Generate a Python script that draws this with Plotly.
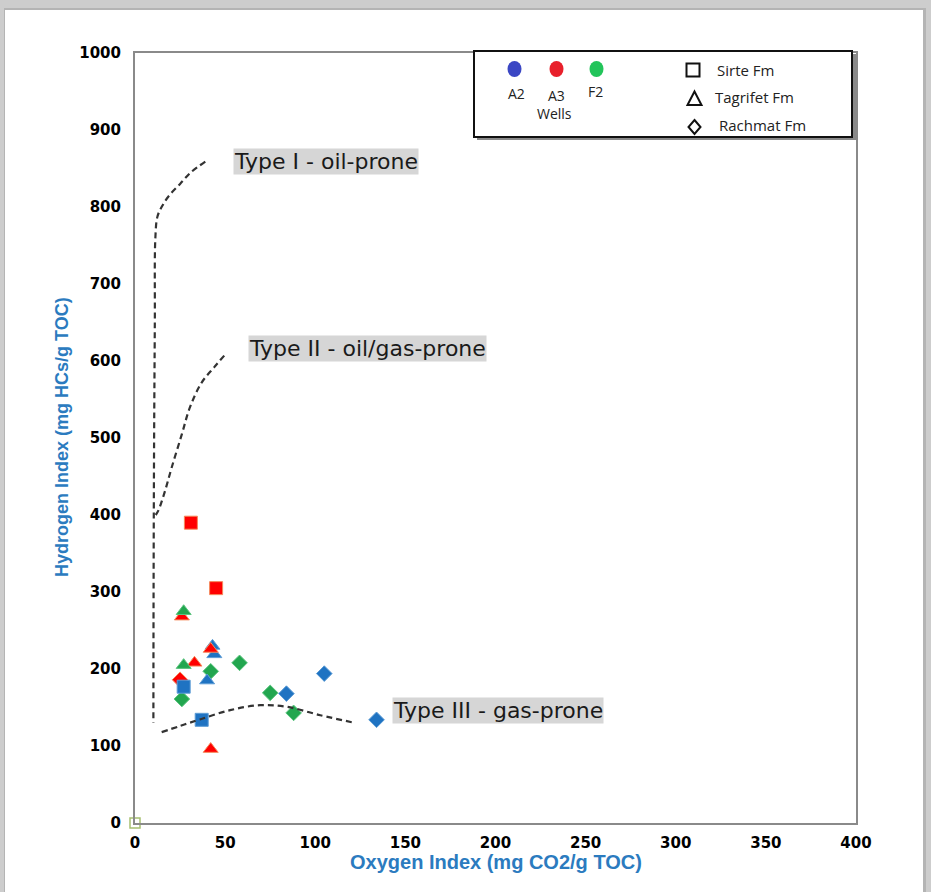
import plotly.graph_objects as go

# ---- Rock-Eval pyrolysis results (Oxygen Index, Hydrogen Index) ----
wells = ["A2", "A3", "F2"]
well_colors = {"A2": "#1f73c2", "A3": "#ff0000", "F2": "#22a64f"}
well_edges = {"A2": "#5b9bd5", "A3": "#f58a5c", "F2": "#5cc47f"}
legend_dot_colors = {"A2": "#3b47c4", "A3": "#e8202b", "F2": "#22c45a"}

formations = ["Sirte Fm", "Tagrifet Fm", "Rachmat Fm"]
form_symbols = {"Sirte Fm": "square", "Tagrifet Fm": "triangle-up", "Rachmat Fm": "diamond"}
form_sizes = {"Sirte Fm": 13, "Tagrifet Fm": 13, "Rachmat Fm": 12}

a2_sirte_oi, a2_sirte_hi = [27, 37], [177, 134]
a2_tagrifet_oi, a2_tagrifet_hi = [43, 44, 40], [230, 219, 185]
a2_rachmat_oi, a2_rachmat_hi = [105, 84, 134], [194, 168, 134]

a3_sirte_oi, a3_sirte_hi = [31, 45], [390, 305]
a3_tagrifet_oi, a3_tagrifet_hi = [26, 42, 33, 42], [268, 226, 208, 96]
a3_rachmat_oi, a3_rachmat_hi = [25], [186]

f2_sirte_oi, f2_sirte_hi = [], []
f2_tagrifet_oi, f2_tagrifet_hi = [27, 27], [275, 205]
f2_rachmat_oi, f2_rachmat_hi = [58, 42, 26, 75, 88], [208, 197, 161, 169, 143]

origin_oi, origin_hi = [0], [0]

samples = {
    ("A2", "Sirte Fm"): (a2_sirte_oi, a2_sirte_hi),
    ("A2", "Tagrifet Fm"): (a2_tagrifet_oi, a2_tagrifet_hi),
    ("A2", "Rachmat Fm"): (a2_rachmat_oi, a2_rachmat_hi),
    ("A3", "Sirte Fm"): (a3_sirte_oi, a3_sirte_hi),
    ("A3", "Tagrifet Fm"): (a3_tagrifet_oi, a3_tagrifet_hi),
    ("A3", "Rachmat Fm"): (a3_rachmat_oi, a3_rachmat_hi),
    ("F2", "Sirte Fm"): (f2_sirte_oi, f2_sirte_hi),
    ("F2", "Tagrifet Fm"): (f2_tagrifet_oi, f2_tagrifet_hi),
    ("F2", "Rachmat Fm"): (f2_rachmat_oi, f2_rachmat_hi),
}

# ---- Kerogen type boundary curves ----
type1_oi = [39, 31, 25, 19, 15.5, 12.5, 11.3, 11, 10.6, 10.3, 10.2]
type1_hi = [859, 845, 830, 815, 803, 788, 760, 650, 500, 300, 130]
type2_oi = [49.5, 44, 37, 30.5, 26, 20.4, 16.5, 13, 11.5]
type2_hi = [607, 592, 572, 540, 505, 462, 430, 406, 400]
type3_oi = [14.8, 25, 36, 52.8, 69.4, 84, 102.8, 122]
type3_hi = [118, 126, 134.5, 146.6, 153, 151, 140, 130]

type_labels = ["Type I - oil-prone", "Type II - oil/gas-prone", "Type III - gas-prone"]
type_label_oi = [106, 129, 201.5]
type_label_hi = [859, 616, 146]

x_ticks = [0, 50, 100, 150, 200, 250, 300, 350, 400]
y_ticks = [0, 100, 200, 300, 400, 500, 600, 700, 800, 900, 1000]

W, H = 931, 892
ML, MR, MT, MB = 135, 75, 53, 69
PW, PH = W - ML - MR, H - MT - MB


def px(x):
    return (x - ML) / PW


def py(y):
    return (H - MB - y) / PH


fig = go.Figure()

# origin marker
fig.add_trace(go.Scatter(
    x=origin_oi, y=origin_hi, mode="markers", cliponaxis=False, showlegend=False,
    marker=dict(symbol="square-open", size=10, color="#a7c070", line=dict(width=1.5)),
))

for form in ["Rachmat Fm", "Tagrifet Fm", "Sirte Fm"]:
    for w in wells:
        oi, hi = samples[(w, form)]
        if not oi:
            continue
        fig.add_trace(go.Scatter(
            x=oi, y=hi, mode="markers", cliponaxis=False, showlegend=False,
            name=f"{w} {form}",
            marker=dict(symbol=form_symbols[form], size=form_sizes[form],
                        color=well_colors[w],
                        line=dict(color=well_edges[w], width=1)),
        ))

line_style = dict(color="#333333", width=2.2, dash="6px,4px")
for xs, ys in [(type1_oi, type1_hi), (type2_oi, type2_hi), (type3_oi, type3_hi)]:
    fig.add_trace(go.Scatter(x=xs, y=ys, mode="lines", line=dict(line_style, shape="spline"),
                             showlegend=False, hoverinfo="skip", cliponaxis=False))

annotations = []
for txt, xo, yo in zip(type_labels, type_label_oi, type_label_hi):
    annotations.append(dict(
        x=xo, y=yo, xref="x", yref="y", text=txt, showarrow=False,
        xanchor="center", yanchor="middle",
        font=dict(family="DejaVu Sans", size=22, color="#1a1a1a"),
        bgcolor="#d6d6d6", borderpad=0,
    ))


def label(x, y, text, size, xanchor="center", family="Open Sans", color="#222222",
          weight="normal", angle=0):
    return dict(x=px(x), y=py(y), xref="paper", yref="paper", text=text, showarrow=False,
                xanchor=xanchor, yanchor="middle", textangle=angle,
                font=dict(family=family, size=size, color=color, weight=weight))


# axis titles
annotations.append(label(496, 862, "Oxygen Index (mg CO2/g TOC)", 20,
                         family="Liberation Sans", color="#2b7bbf", weight="bold"))
annotations.append(label(62, 437, "Hydrogen Index (mg HCs/g TOC)", 18,
                         family="Liberation Sans", color="#2b7bbf", weight="bold", angle=-90))

shapes = []
# page card
shapes.append(dict(type="rect", xref="paper", yref="paper", layer="below",
                   x0=px(4), x1=px(926), y0=py(H + 5), y1=py(8),
                   fillcolor="#b4b4b4", line=dict(width=0)))
shapes.append(dict(type="rect", xref="paper", yref="paper", layer="below",
                   x0=px(5), x1=px(923), y0=py(H + 5), y1=py(10),
                   fillcolor="white", line=dict(width=0)))

# legend box
shapes.append(dict(type="rect", xref="paper", yref="paper", layer="above",
                   x0=px(477), x1=px(856), y0=py(140), y1=py(54),
                   fillcolor="#8a8a8a", line=dict(width=0)))
shapes.append(dict(type="rect", xref="paper", yref="paper", layer="above",
                   x0=px(474), x1=px(852), y0=py(137), y1=py(51),
                   fillcolor="white", line=dict(color="#111111", width=2)))

dot_cx = {"A2": 514.5, "A3": 556.5, "F2": 596.5}
lab_pos = {"A2": (516, 94), "A3": (556, 95.5), "F2": (595, 92)}
for w in wells:
    cx = dot_cx[w]
    shapes.append(dict(type="circle", xref="paper", yref="paper", layer="above",
                       x0=px(cx - 7), x1=px(cx + 7), y0=py(77), y1=py(61),
                       fillcolor=legend_dot_colors[w], line=dict(width=0)))
    lx, ly = lab_pos[w]
    annotations.append(label(lx, ly, w, 14))
annotations.append(label(554, 114, "Wells", 14))

sym_line = dict(color="#111111", width=2)
shapes.append(dict(type="rect", xref="paper", yref="paper", layer="above",
                   x0=px(686.5), x1=px(699.5), y0=py(76.5), y1=py(63.5), line=sym_line))


def ppath(pts):
    return "M " + " L ".join(f"{px(a):.5f},{py(b):.5f}" for a, b in pts) + " Z"


shapes.append(dict(type="path", xref="paper", yref="paper", layer="above",
                   path=ppath([(694.5, 91.5), (701.5, 105), (687.5, 105)]), line=sym_line))
shapes.append(dict(type="path", xref="paper", yref="paper", layer="above",
                   path=ppath([(694.5, 120), (700.5, 127), (694.5, 134), (688.5, 127)]), line=sym_line))

form_lab_pos = [(715, 70), (713, 97), (716.5, 125)]
for form, (lx, ly) in zip(formations, form_lab_pos):
    annotations.append(label(lx, ly, form, 15, xanchor="left"))

axis_common = dict(
    showgrid=False, zeroline=False, showline=True, linecolor="#8a8a8a", linewidth=2,
    mirror=True, ticks="",
    tickfont=dict(family="DejaVu Sans", size=15, color="#000000", weight="bold"),
)

fig.update_layout(
    width=W, height=H, margin=dict(l=ML, r=MR, t=MT, b=MB),
    paper_bgcolor="#cdcdcd", plot_bgcolor="white",
    xaxis=dict(axis_common, range=[0, 400], tickvals=x_ticks, ticklabelstandoff=5),
    yaxis=dict(axis_common, range=[0, 1000], tickvals=y_ticks, ticklabelstandoff=9),
    shapes=shapes, annotations=annotations, showlegend=False,
)

fig.write_html("out.html")
